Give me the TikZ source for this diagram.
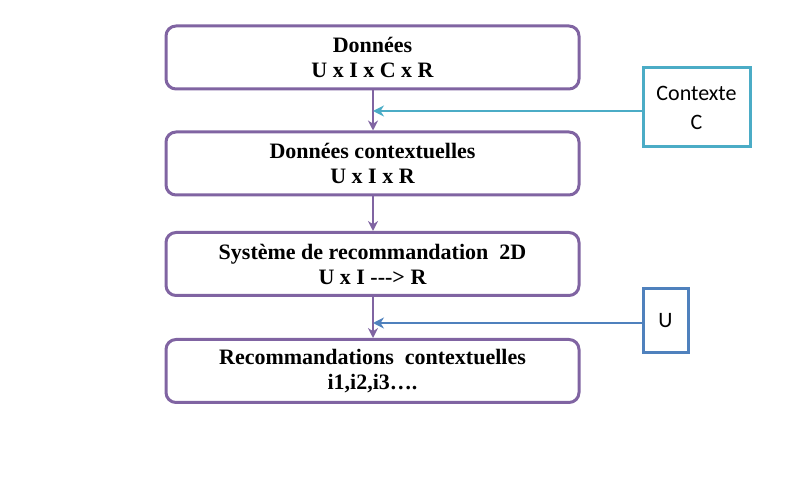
\documentclass[tikz,border=0pt]{standalone}
\usepackage{fontspec}
\setmainfont{Liberation Serif}[Ligatures=NoCommon]
\newfontfamily\carlitofont{Carlito}
\usetikzlibrary{arrows.meta}
\definecolor{purp}{HTML}{8064A2}
\definecolor{cyanb}{HTML}{4BACC6}
\definecolor{blueb}{HTML}{4F81BD}
\begin{document}
\begin{tikzpicture}[x=1pt,y=-1pt,
  mainbox/.style={draw=purp,line width=3pt,rounded corners=10pt,minimum width=413pt,minimum height=63pt,align=center,font=\fontsize{22}{25}\selectfont\bfseries,inner sep=0pt},
  sidebox/.style={draw=#1,line width=3pt,align=center,font=\carlitofont\fontsize{22}{29}\selectfont,inner sep=0pt},
  parrow/.style={draw=purp,line width=2pt,-{Stealth[length=10pt,width=10pt]}},
  sarrow/.style={draw=#1,line width=2pt,-{Stealth[length=11pt,width=11pt]}}]
\useasboundingbox (0,0) rectangle (785,486);
\node[mainbox] (b1) at (372.5,57.5) {Données\\U x I x C x R};
\node[mainbox] (b2) at (372.5,163.5) {Données contextuelles\\U x I x R};
\node[mainbox] (b3) at (372.5,264) {Système de recommandation~ 2D\\U x I -{}-{}-> R};
\node[mainbox] (b4) at (372.5,371) {Recommandations~ contextuelles\\i1,i2,i3….};
\node[sidebox=cyanb,minimum width=107pt,minimum height=79pt] (ctx) at (696.5,107.5) {Contexte\\C};
\node[sidebox=blueb,minimum width=45pt,minimum height=64pt] (u) at (665.5,321) {U};
\coordinate (j1) at (373,111);
\coordinate (j2) at (373,323);
\draw[parrow] (b1.south -| j1) -- (b2.north -| j1);
\draw[parrow] (b2.south -| j1) -- (b3.north -| j1);
\draw[parrow] (b3.south -| j2) -- (b4.north -| j2);
\draw[sarrow=cyanb] (ctx.west |- j1) -- (j1);
\draw[sarrow=blueb] (u.west |- j2) -- (j2);
\end{tikzpicture}
\end{document}
